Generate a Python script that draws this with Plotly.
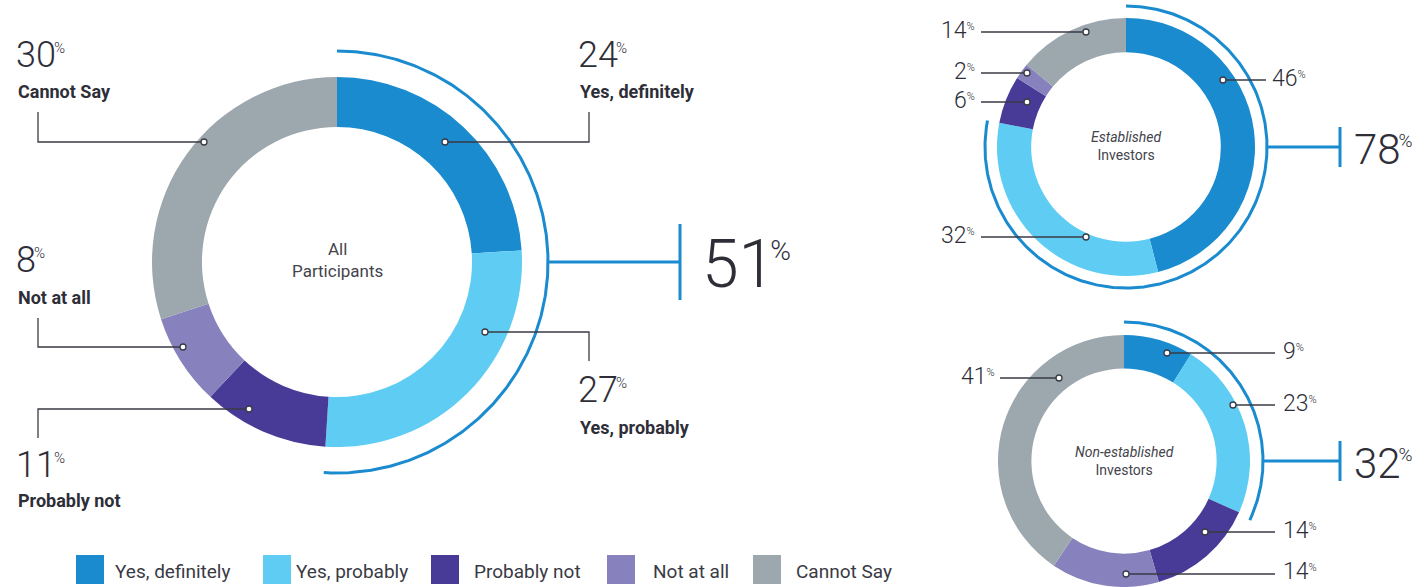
import numpy as np
import plotly.graph_objects as go

W, H = 1424, 587

# ---------------- data ----------------
categories = ["Yes, definitely", "Yes, probably", "Probably not", "Not at all", "Cannot Say"]
all_participants = [24, 27, 11, 8, 30]
established = [46, 32, 6, 2, 14]
non_established = [9, 23, 14, 14, 41]
group_titles = ["All<br>Participants", "<i>Established</i><br>Investors", "<i>Non-established</i><br>Investors"]

# ---------------- style ----------------
colors = ["#1A8BCF", "#5FCDF3", "#483B98", "#8781BD", "#9DA8AE"]
TXT = "#2E2E38"
LINE = "#3A3A44"
ARC = "#1A8BCF"
FONT = "Roboto"

fig = go.Figure()


def dom(cx, cy, r):
    return dict(x=[max(0, (cx - r) / W), min(1, (cx + r) / W)],
                y=[max(0, 1 - (cy + r) / H), min(1, 1 - (cy - r) / H)])


# donut geometry (layout only)
donuts = [
    dict(vals=all_participants, cx=337, cy=262, r=185, hole=0.73, arc_r=211, tick_x=680, tick_h=38,
         big_x=700, big_size=66, big_pct=28, big_shift=27, kern=-5, title=group_titles[0], title_size=17, title_dy=-2),
    dict(vals=established, cx=1126, cy=147, r=129, hole=0.735, arc_r=141, tick_x=1340, tick_h=20,
         big_x=1352, big_size=42, big_pct=19, big_shift=17, kern=-2, title=group_titles[1], title_size=14, title_dy=-1),
    dict(vals=non_established, cx=1124, cy=461, r=126, hole=0.735, arc_r=139, tick_x=1340, tick_h=20,
         big_x=1352, big_size=42, big_pct=19, big_shift=17, kern=-2, title=group_titles[2], title_size=14, title_dy=0),
]

for d in donuts:
    fig.add_trace(go.Pie(
        labels=categories, values=d["vals"], hole=d["hole"], sort=False,
        direction="clockwise", rotation=0,
        marker=dict(colors=colors, line=dict(width=0)),
        textinfo="none", hoverinfo="label+value", showlegend=False,
        domain=dom(d["cx"], d["cy"], d["r"]),
    ))

annotations = []
shapes = []


def pct_text(v, pct_size, shift, kern=0):
    s = str(v)
    if kern:
        s = f"{s[:-1]}<span style='letter-spacing:{kern}px'>{s[-1]}</span>"
    return f"{s}<span style='font-size:{pct_size}px;baseline-shift:{shift}px'>%</span>"


# outer arcs + ticks + big totals (sum of the two "yes" answers)
for d in donuts:
    yes = d["vals"][0] + d["vals"][1]
    frac = yes / 100.0
    th = np.linspace(0, 2 * np.pi * frac, 300)
    fig.add_trace(go.Scatter(x=d["cx"] + d["arc_r"] * np.sin(th), y=d["cy"] - d["arc_r"] * np.cos(th),
                             mode="lines", line=dict(color=ARC, width=3), hoverinfo="skip", showlegend=False))
    fig.add_trace(go.Scatter(x=[d["cx"] + d["arc_r"], d["tick_x"], None, d["tick_x"], d["tick_x"]],
                             y=[d["cy"], d["cy"], None, d["cy"] - d["tick_h"], d["cy"] + d["tick_h"]],
                             mode="lines", line=dict(color=ARC, width=3), hoverinfo="skip", showlegend=False))
    annotations.append(dict(x=d["big_x"], y=d["cy"] + 2, xanchor="left", yanchor="middle",
                            text=pct_text(yes, d["big_pct"], d["big_shift"], d["kern"]),
                            font=dict(family=FONT, size=d["big_size"], color=TXT, weight=300),
                            showarrow=False))
    annotations.append(dict(x=d["cx"], y=d["cy"] + d["title_dy"], xanchor="center", yanchor="middle",
                            text=d["title"], font=dict(family=FONT, size=d["title_size"], color="#44444C"),
                            showarrow=False))

# ---------- leader lines (layout positions) ----------
main_labels = [
    (4, (14, 55), (16, 91), [(38, 112), (38, 142), (204, 142)]),
    (0, (576, 55), (578, 91), [(589, 112), (589, 142), (445, 142)]),
    (3, (14, 260), (16, 297), [(38, 318), (38, 347), (183, 347)]),
    (2, (14, 465), (16, 500), [(38, 438), (38, 409), (249, 409)]),
    (1, (576, 390), (578, 427), [(589, 361), (589, 332), (485, 332)]),
]


def add_leader(points):
    path = "M " + " L ".join(f"{x},{y}" for x, y in points)
    shapes.append(dict(type="path", xref="x", yref="y", path=path, layer="above",
                       line=dict(color=LINE, width=1.3)))
    xd, yd = points[-1]
    shapes.append(dict(type="circle", xref="x", yref="y", x0=xd - 3, x1=xd + 3, y0=yd - 3, y1=yd + 3,
                       layer="above", fillcolor="white", line=dict(color=LINE, width=1.3)))


for idx, npos, lpos, poly in main_labels:
    annotations.append(dict(x=npos[0], y=npos[1], xanchor="left", yanchor="middle",
                            text=pct_text(all_participants[idx], 15, 14, -2),
                            font=dict(family=FONT, size=36, color=TXT, weight=300), showarrow=False))
    annotations.append(dict(x=lpos[0], y=lpos[1], xanchor="left", yanchor="middle",
                            text=f"<b>{categories[idx]}</b>",
                            font=dict(family=FONT, size=18, color=TXT), showarrow=False))
    add_leader(poly)

# small donuts: (values list, index, text x, text anchor, line y, line from x, dot x)
small_labels = [
    (established, 4, 977, "right", 32, 981, 1086),
    (established, 3, 977, "right", 73, 981, 1027),
    (established, 2, 977, "right", 102, 981, 1027),
    (established, 1, 977, "right", 237, 981, 1086),
    (established, 0, 1270, "left", 80, 1266, 1223),
    (non_established, 0, 1281, "left", 353, 1275, 1167),
    (non_established, 1, 1281, "left", 405, 1275, 1233),
    (non_established, 2, 1281, "left", 532, 1275, 1205),
    (non_established, 3, 1281, "left", 574, 1275, 1126),
    (non_established, 4, 997, "right", 378, 1000, 1059),
]
for vals, idx, tx, anchor, yline, x0, xdot in small_labels:
    annotations.append(dict(x=tx, y=min(yline - 2, 571), xanchor=anchor, yanchor="middle",
                            text=pct_text(vals[idx], 11, 8),
                            font=dict(family=FONT, size=23, color=TXT, weight=300), showarrow=False))
    add_leader([(x0, yline), (xdot, yline)])

# ---------- custom legend ----------
legend_sq_x = [76, 263, 431, 607, 753]
legend_tx_x = [113, 294, 472, 651, 794]
for i, cat in enumerate(categories):
    shapes.append(dict(type="rect", xref="x", yref="y", x0=legend_sq_x[i], x1=legend_sq_x[i] + 28,
                       y0=555, y1=584, fillcolor=colors[i], line=dict(width=0)))
    annotations.append(dict(x=legend_tx_x[i], y=571, xanchor="left", yanchor="middle", text=cat,
                            font=dict(family=FONT, size=19, color="#3A3A44"), showarrow=False))

fig.update_layout(
    width=W, height=H,
    margin=dict(l=0, r=0, t=0, b=0),
    paper_bgcolor="white", plot_bgcolor="rgba(0,0,0,0)",
    xaxis=dict(range=[0, W], visible=False, fixedrange=True, domain=[0, 1]),
    yaxis=dict(range=[H, 0], visible=False, fixedrange=True, domain=[0, 1]),
    annotations=annotations,
    shapes=shapes,
    showlegend=False,
    font=dict(family=FONT, color=TXT),
)

fig.write_html("out.html")
